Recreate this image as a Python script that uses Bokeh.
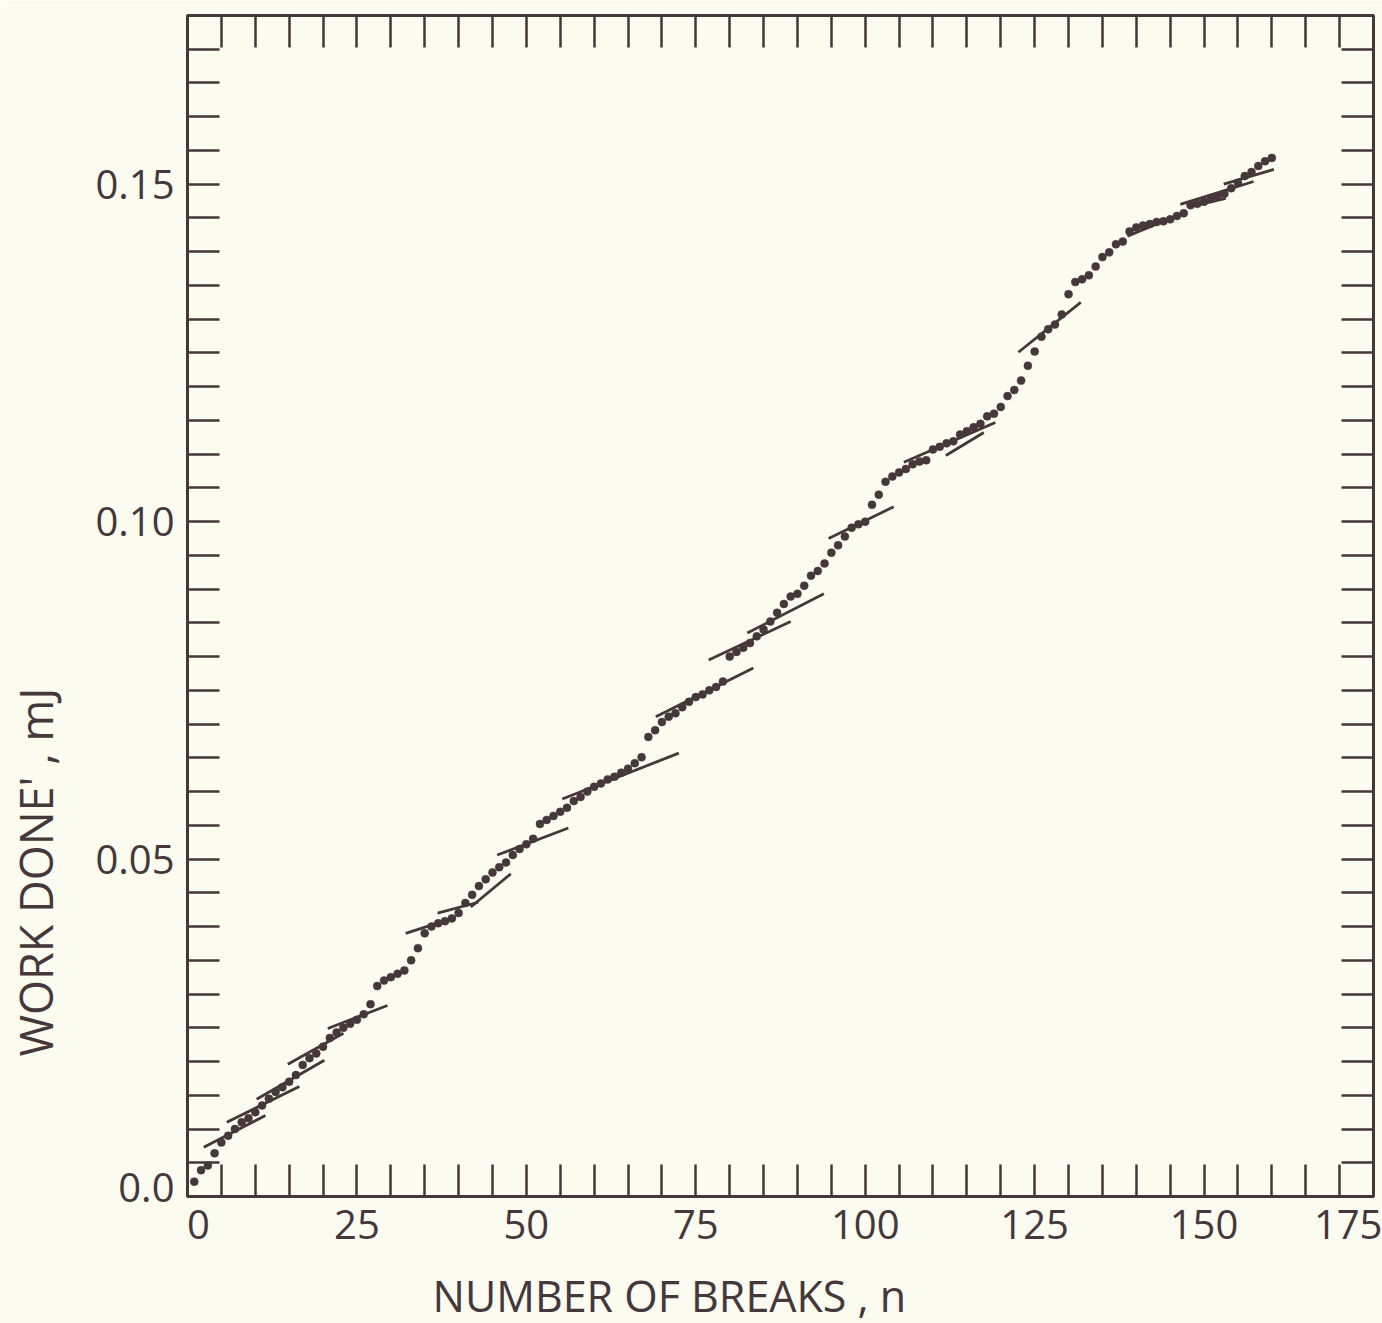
from bokeh.plotting import figure
from bokeh.models import (Range1d, FixedTicker, LinearAxis, CustomJSTickFormatter,
                          Title, ColumnDataSource)
from bokeh.embed import file_html
from bokeh.resources import INLINE

# ---------------- data ----------------
n_breaks = list(range(1, 161))
work_done = [
    0.0022, 0.0039, 0.0046, 0.0064, 0.0080, 0.0090, 0.0100, 0.0110, 0.0116, 0.0125,   # 1-10
    0.0135, 0.0145, 0.0155, 0.0162, 0.0170, 0.0180, 0.0195, 0.0205, 0.0212, 0.0222,   # 11-20
    0.0235, 0.0243, 0.0250, 0.0256, 0.0262, 0.0270, 0.0285, 0.0312, 0.0320, 0.0325,   # 21-30
    0.0330, 0.0335, 0.0350, 0.0368, 0.0390, 0.0400, 0.0405, 0.0408, 0.0412, 0.0420,   # 31-40
    0.0435, 0.0447, 0.0460, 0.0470, 0.0480, 0.0488, 0.0495, 0.0506, 0.0515, 0.0522,   # 41-50
    0.0530, 0.0552, 0.0558, 0.0564, 0.0570, 0.0576, 0.0586, 0.0592, 0.0600, 0.0607,   # 51-60
    0.0612, 0.0618, 0.0622, 0.0628, 0.0634, 0.0642, 0.0651, 0.0681, 0.0691, 0.0703,   # 61-70
    0.0711, 0.0716, 0.0725, 0.0733, 0.0740, 0.0744, 0.0750, 0.0755, 0.0763, 0.0800,   # 71-80
    0.0807, 0.0813, 0.0820, 0.0830, 0.0840, 0.0852, 0.0865, 0.0878, 0.0889, 0.0893,   # 81-90
    0.0905, 0.0920, 0.0927, 0.0938, 0.0954, 0.0965, 0.0978, 0.0991, 0.0996, 0.1000,   # 91-100
    0.1025, 0.1040, 0.1059, 0.1067, 0.1073, 0.1078, 0.1085, 0.1089, 0.1091, 0.1107,   # 101-110
    0.1111, 0.1116, 0.1119, 0.1129, 0.1134, 0.1140, 0.1145, 0.1156, 0.1160, 0.1170,   # 111-120
    0.1186, 0.1195, 0.1209, 0.1231, 0.1252, 0.1274, 0.1285, 0.1292, 0.1307, 0.1337,   # 121-130
    0.1355, 0.1359, 0.1365, 0.1378, 0.1392, 0.1399, 0.1411, 0.1415, 0.1430, 0.1436,   # 131-140
    0.1439, 0.1441, 0.1444, 0.1445, 0.1448, 0.1453, 0.1457, 0.1469, 0.1471, 0.1474,   # 141-150
    0.1478, 0.1482, 0.1486, 0.1494, 0.1502, 0.1512, 0.1518, 0.1527, 0.1534, 0.1539,   # 151-160
]

# short fitted line segments (start n, start W, end n, end W)
fit_n_start = [2.4, 5.8, 10.2, 14.8, 20.7, 32.2, 36.9, 41.8, 45.7, 55.3, 69.1, 76.9, 82.6,
               94.6, 105.7, 111.9, 122.6, 138.7, 146.5, 147.7, 152.9]
fit_w_start = [0.0073, 0.0110, 0.0144, 0.0196, 0.0249, 0.0390, 0.0420, 0.0429, 0.0506,
               0.0589, 0.0711, 0.0795, 0.0835, 0.0975, 0.1088, 0.1098, 0.1251, 0.1423,
               0.1470, 0.1466, 0.1500]
fit_n_end = [11.5, 16.5, 20.2, 23.0, 29.5, 39.6, 42.9, 47.7, 56.2, 72.5, 83.5, 89.0, 93.9,
             104.2, 119.2, 117.5, 131.8, 147.3, 157.3, 153.2, 160.3]
fit_w_end = [0.0120, 0.0163, 0.0202, 0.0242, 0.0283, 0.0414, 0.0436, 0.0478, 0.0546,
             0.0657, 0.0783, 0.0852, 0.0893, 0.1022, 0.1147, 0.1132, 0.1325, 0.1459,
             0.1504, 0.1479, 0.1522]

# tick labels 0 ... 175 (the first and last sit slightly inside the frame, as printed)
x_label_at = [1.6, 25, 50, 75, 100, 125, 150, 171.6]
x_tick_marks = [5 * i for i in range(0, 36)]
# tick labels 0.0 ... 0.15
y_label_at = [0.0013, 0.05, 0.10, 0.15]
y_tick_marks = [0.005 * i for i in range(0, 36)]

x_title = "NUMBER OF BREAKS ,  n"
y_title = "WORK  DONE'  ,  mJ"

# ---------------- style ----------------
BG = "#fbfbef"
INK = "#45373a"
FONT = "Open Sans"

p = figure(width=1382, height=1323,
           x_range=Range1d(0, 175), y_range=Range1d(0, 0.175),
           output_backend="svg", toolbar_location=None,
           min_border_left=187, min_border_right=9,
           min_border_top=15, min_border_bottom=127,
           background_fill_color=BG, border_fill_color=BG)
p.xgrid.visible = False
p.ygrid.visible = False
p.outline_line_color = INK
p.outline_line_width = 3
p.outline_line_alpha = 1.0


def style_axis(ax):
    ax.axis_line_color = INK
    ax.axis_line_width = 3
    ax.major_tick_line_color = INK
    ax.minor_tick_line_color = INK
    ax.major_tick_line_width = 2.5
    ax.minor_tick_line_width = 2.5
    ax.major_tick_in = 0
    ax.major_tick_out = 0
    ax.minor_tick_in = 32
    ax.minor_tick_out = 0
    ax.major_label_text_color = INK
    ax.major_label_text_font = FONT
    ax.major_label_text_font_size = "40px"
    ax.major_label_standoff = 13


xb = p.xaxis[0]
xb.ticker = FixedTicker(ticks=x_label_at, minor_ticks=x_tick_marks)
xb.formatter = CustomJSTickFormatter(code="return String(Math.round(tick / 25) * 25);")
style_axis(xb)

yl = p.yaxis[0]
yl.ticker = FixedTicker(ticks=y_label_at, minor_ticks=y_tick_marks)
yl.formatter = CustomJSTickFormatter(
    code="const v = Math.round(tick / 0.05) * 0.05; return v < 1e-9 ? '0.0' : v.toFixed(2);")
style_axis(yl)

blank = CustomJSTickFormatter(code="return '';")
xt = LinearAxis(ticker=FixedTicker(ticks=[], minor_ticks=x_tick_marks), formatter=blank)
style_axis(xt)
xt.major_label_text_font_size = "0px"
xt.major_label_standoff = 0
p.add_layout(xt, "above")

yr = LinearAxis(ticker=FixedTicker(ticks=[], minor_ticks=y_tick_marks), formatter=blank)
style_axis(yr)
yr.major_label_text_font_size = "0px"
yr.major_label_standoff = 0
p.add_layout(yr, "right")

# axis titles (placed off-centre, as in the original print); a blank spacer
# title moves each one a little further away from its axis
p.add_layout(Title(text=" ", text_font_size="10px", standoff=26), "below")
p.add_layout(Title(text=x_title, align="left", offset=245, vertical_align="top", standoff=-30,
                   text_font=FONT, text_font_size="43px", text_font_style="normal",
                   text_color=INK), "below")
p.add_layout(Title(text=" ", text_font_size="10px", standoff=22), "left")
p.add_layout(Title(text=y_title, align="left", offset=140, vertical_align="top", standoff=-20,
                   text_font=FONT, text_font_size="45px", text_font_style="normal",
                   text_color=INK), "left")

# fitted segments
seg_src = ColumnDataSource(dict(x0=fit_n_start, y0=fit_w_start, x1=fit_n_end, y1=fit_w_end))
p.segment(x0="x0", y0="y0", x1="x1", y1="y1", source=seg_src,
          line_color=INK, line_width=2.8)

# data points
pt_src = ColumnDataSource(dict(n=n_breaks, w=work_done))
p.scatter(x="n", y="w", source=pt_src, size=8, fill_color=INK, line_color=INK, line_width=0.5)

open("out.html", "w").write(file_html(p, INLINE))
